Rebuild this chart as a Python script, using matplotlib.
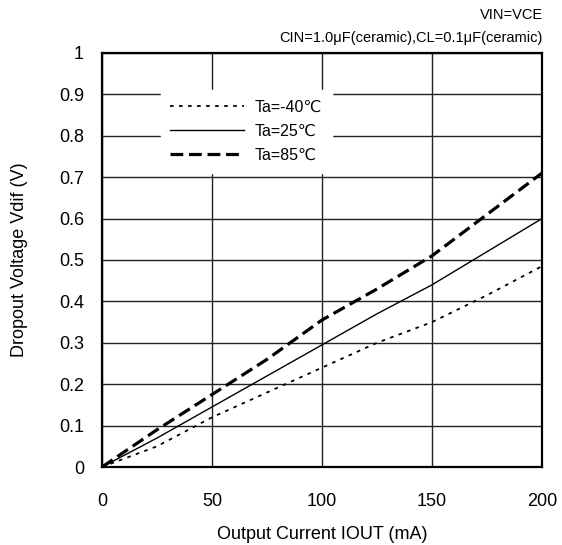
import matplotlib
matplotlib.use('Agg')
import matplotlib.pyplot as plt

plt.rcParams['font.family'] = ['Liberation Sans', 'DejaVu Sans']

# Output current (mA)
current = [0, 25, 50, 75, 100, 125, 150, 175, 200]
# Dropout voltage (V) for each ambient temperature
vdif_m40 = [0, 0.05, 0.12, 0.18, 0.24, 0.30, 0.35, 0.415, 0.485]
vdif_25 = [0, 0.07, 0.145, 0.22, 0.295, 0.37, 0.44, 0.52, 0.60]
vdif_85 = [0, 0.09, 0.175, 0.26, 0.355, 0.43, 0.51, 0.61, 0.71]

labels = ['Ta=-40℃', 'Ta=25℃', 'Ta=85℃']
xticks = [0, 50, 100, 150, 200]
yticks = [0, 0.1, 0.2, 0.3, 0.4, 0.5, 0.6, 0.7, 0.8, 0.9, 1]

fig = plt.figure(figsize=(5.62, 5.45), dpi=100)
ax = fig.add_axes([0.1815, 0.1431, 0.7829, 0.7597])

ax.plot(current, vdif_m40, color='black', lw=1.3, linestyle=(0, (2, 3)), label=labels[0])
ax.plot(current, vdif_25, color='black', lw=1.0, linestyle='-', label=labels[1])
ax.plot(current, vdif_85, color='black', lw=2.3, linestyle=(0, (4, 1.8)), label=labels[2])

ax.set_xlim(0, 200)
ax.set_ylim(0, 1)
ax.set_xticks(xticks)
ax.set_yticks(yticks)
ax.set_yticklabels([f'{v:g}' for v in yticks])
ax.grid(True, color='#222222', lw=1.0)
ax.tick_params(axis='y', length=0, labelsize=13, pad=13)
ax.tick_params(axis='x', length=0, labelsize=13, pad=19)
for s in ax.spines.values():
    s.set_linewidth(1.6)

ax.set_xlabel('Output Current IOUT (mA)', fontsize=13, labelpad=11)
ax.set_ylabel('Dropout Voltage Vdif (V)', fontsize=13, labelpad=22)

leg = ax.legend(loc='upper left', bbox_to_anchor=(0.115, 0.93), frameon=True,
                handlelength=4.6, handletextpad=0.7, fontsize=11.5,
                labelspacing=0.58, borderpad=0.6, fancybox=False, framealpha=1)
leg.get_frame().set_edgecolor('white')
leg.get_frame().set_facecolor('white')

fig.text(0.9662, 0.972, 'VIN=VCE', ha='right', va='center', fontsize=10.5)
fig.text(0.9662, 0.930, 'CIN=1.0μF(ceramic),CL=0.1μF(ceramic)', ha='right', va='center', fontsize=10.5)

fig.savefig('out.png', dpi=100)
